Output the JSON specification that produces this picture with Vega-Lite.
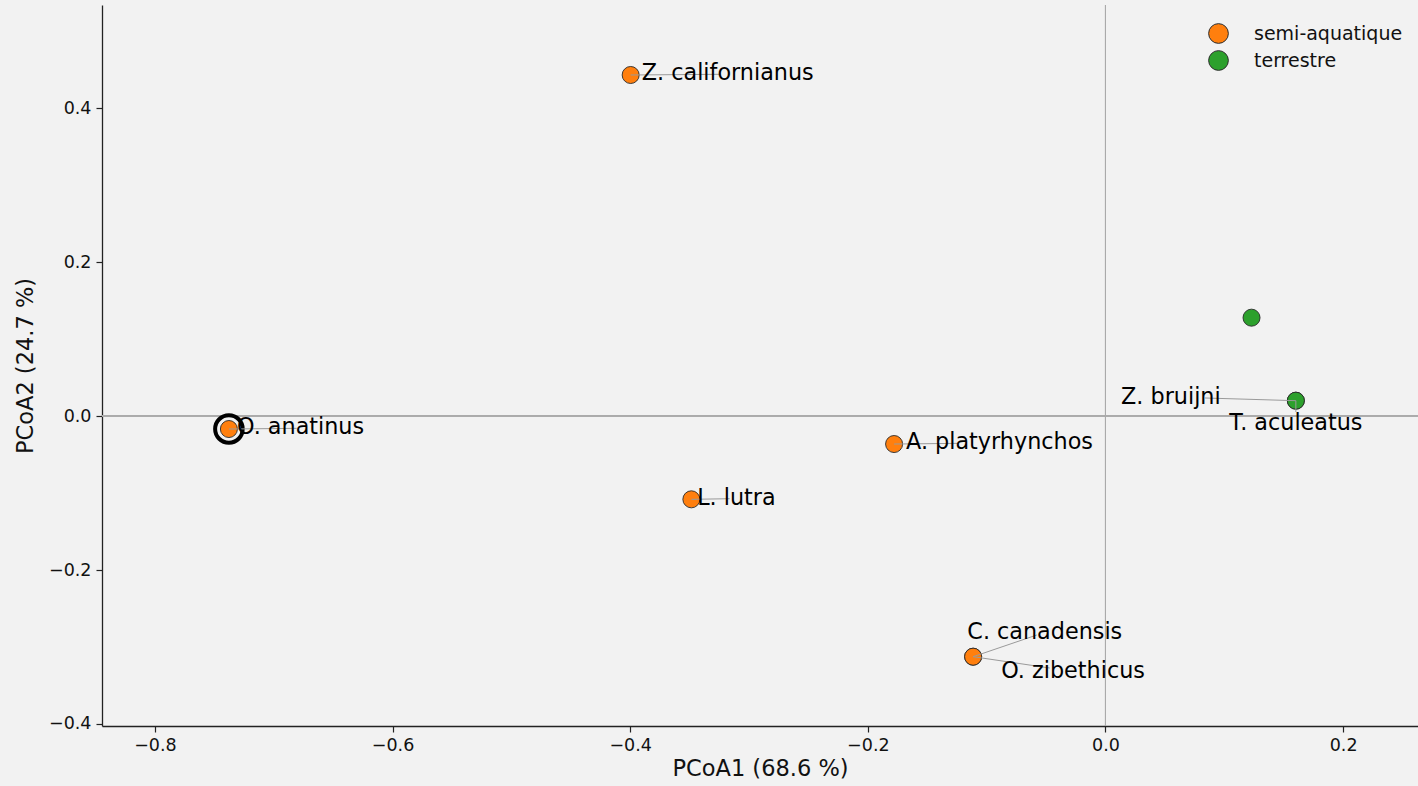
{
  "$schema": "https://vega.github.io/schema/vega-lite/v6.json",
  "width": 1316,
  "height": 721,
  "autosize": {"type": "none"},
  "padding": {"left": 102, "top": 5, "right": 0, "bottom": 60},
  "background": "#f2f2f2",
  "config": {
    "view": {"stroke": null},
    "font": "DejaVu Sans",
    "axis": {
      "grid": false,
      "domainColor": "#222222",
      "domainWidth": 1.3,
      "tickColor": "#222222",
      "tickWidth": 1.2,
      "tickSize": 6,
      "labelFont": "DejaVu Sans",
      "labelFontSize": 17.5,
      "labelColor": "#111111",
      "titleFont": "DejaVu Sans",
      "titleFontSize": 22.5,
      "titleFontWeight": "normal",
      "titleColor": "#111111"
    }
  },
  "data": {
    "values": [
      {"name": "Z. californianus", "type": "semi-aquatique", "x": -0.3996, "y": 0.4429, "tx": -0.3179, "ty": 0.4451, "ex": -0.3247, "ey": 0.4438, "hl": false},
      {"name": "O. anatinus", "type": "semi-aquatique", "x": -0.7377, "y": -0.0169, "tx": -0.6774, "ty": -0.0139, "ex": -0.6807, "ey": -0.016, "hl": true},
      {"name": "A. platyrhynchos", "type": "semi-aquatique", "x": -0.1779, "y": -0.0364, "tx": -0.0892, "ty": -0.0334, "ex": -0.1243, "ey": -0.0355, "hl": false},
      {"name": "L. lutra", "type": "semi-aquatique", "x": -0.3485, "y": -0.1082, "tx": -0.3106, "ty": -0.1069, "ex": -0.3163, "ey": -0.1074, "hl": false},
      {"name": "C. canadensis", "type": "semi-aquatique", "x": -0.1114, "y": -0.3126, "tx": -0.0511, "ty": -0.2801, "ex": -0.0578, "ey": -0.2844, "hl": false},
      {"name": "O. zibethicus", "type": "semi-aquatique", "x": -0.1114, "y": -0.3126, "tx": -0.0273, "ty": -0.3308, "ex": -0.0469, "ey": -0.3273, "hl": false},
      {"name": "Z. bruijni", "type": "terrestre", "x": 0.1602, "y": 0.0199, "tx": 0.055, "ty": 0.0251, "ex": 0.0837, "ey": 0.0234, "hl": false},
      {"name": "T. aculeatus", "type": "terrestre", "x": 0.1602, "y": 0.0199, "tx": 0.1602, "ty": -0.0095, "ex": 0.1602, "ey": 0.0052, "hl": false},
      {"name": null, "type": "terrestre", "x": 0.1229, "y": 0.1277, "hl": false}
    ]
  },
  "encoding": {
    "x": {
      "field": "x", "type": "quantitative",
      "scale": {"domain": [-0.8445, 0.263], "nice": false, "zero": false},
      "axis": {"title": "PCoA1 (68.6 %)", "values": [-0.8, -0.6, -0.4, -0.2, 0, 0.2], "format": ".1f", "labelPadding": 4, "titlePadding": 4}
    },
    "y": {
      "field": "y", "type": "quantitative",
      "scale": {"domain": [-0.4026, 0.5338], "nice": false, "zero": false},
      "axis": {"title": "PCoA2 (24.7 %)", "values": [-0.4, -0.2, 0, 0.2, 0.4], "format": ".1f", "labelPadding": 5, "titlePadding": 11}
    }
  },
  "layer": [
    {
      "mark": {"type": "rule", "color": "#ababab", "strokeWidth": 1},
      "encoding": {"y": {"datum": 0}, "x": null}
    },
    {
      "mark": {"type": "rule", "color": "#ababab", "strokeWidth": 1},
      "encoding": {"x": {"datum": 0}, "y": null}
    },
    {
      "mark": {"type": "point", "shape": "circle", "filled": true, "size": 290, "opacity": 1, "stroke": "#2a2a2a", "strokeWidth": 0.9},
      "encoding": {
        "fill": {
          "field": "type", "type": "nominal",
          "scale": {"domain": ["semi-aquatique", "terrestre"], "range": ["#ff7f0e", "#2ca02c"]},
          "legend": {
            "title": null, "orient": "none", "legendX": 1106, "legendY": 18,
            "symbolType": "circle", "symbolSize": 390, "symbolStrokeColor": "#2a2a2a", "symbolStrokeWidth": 1, "symbolOpacity": 1,
            "labelFontSize": 19, "labelFont": "DejaVu Sans", "labelColor": "#111111", "labelOffset": 25, "rowPadding": 2, "padding": 0
          }
        }
      }
    },
    {
      "transform": [{"filter": "datum.hl"}],
      "mark": {"type": "point", "shape": "circle", "filled": false, "size": 760, "stroke": "#000000", "strokeWidth": 4, "opacity": 1}
    },
    {
      "transform": [{"filter": "datum.name != null"}],
      "mark": {"type": "rule", "color": "#9a9a9a", "strokeWidth": 1},
      "encoding": {
        "x2": {"field": "ex"},
        "y2": {"field": "ey"}
      }
    },
    {
      "transform": [{"filter": "datum.name != null"}],
      "mark": {"type": "text", "align": "center", "baseline": "middle", "fontSize": 22.3, "font": "DejaVu Sans", "color": "#000000"},
      "encoding": {
        "x": {"field": "tx", "type": "quantitative"},
        "y": {"field": "ty", "type": "quantitative"},
        "text": {"field": "name", "type": "nominal"}
      }
    }
  ]
}
